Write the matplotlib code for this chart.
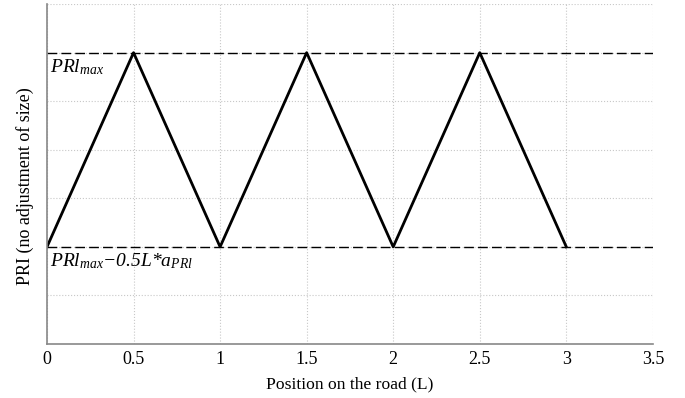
import numpy as np
import matplotlib.pyplot as plt

plt.rcParams['font.family'] = 'Liberation Serif'
plt.rcParams['mathtext.fontset'] = 'custom'
plt.rcParams['mathtext.rm'] = 'Liberation Serif'
plt.rcParams['mathtext.it'] = 'Liberation Serif:italic'

# road position (L) and PRI value
position = [0, 0.5, 1, 1.5, 2, 2.5, 3]
pri = [2, 6, 2, 6, 2, 6, 2]
pri_max = 6
pri_min = 2
xticks = [0, 0.5, 1, 1.5, 2, 2.5, 3, 3.5]
xticklabels = ['0', '0.5', '1', '1.5', '2', '2.5', '3', '3.5']

fig = plt.figure(figsize=(6.85, 3.98), dpi=100)
ax = fig.add_axes([0.0686, 0.1357, 0.8845, 0.854])

ax.plot(position, pri, color='black', lw=2)
ax.axhline(pri_max, color='black', lw=1, ls=(0, (7, 3)))
ax.axhline(pri_min, color='black', lw=1, ls=(0, (7, 3)))

ax.set_xlim(0, 3.5)
ax.set_ylim(0, 7)
ax.set_xticks(xticks)
ax.set_xticklabels(xticklabels, fontsize=13)
ax.set_yticks(np.arange(0, 8, 1))
ax.set_yticklabels([])
ax.tick_params(length=0, pad=5)
ax.grid(True, color='#c8c8c8', ls=':', lw=0.8)

for s in ['top', 'right']:
    ax.spines[s].set_visible(False)
for s in ['left', 'bottom']:
    ax.spines[s].set_color('#888888')
    ax.spines[s].set_linewidth(1.2)

ax.text(0.02, pri_max - 0.1, r'PRl$_{max}$', fontsize=14, style='italic',
        va='top', ha='left')
ax.text(0.02, pri_min - 0.1, r'PRl$_{max}$−0.5L*a$_{PRl}$', fontsize=14,
        style='italic', va='top', ha='left')

ax.set_xlabel('Position on the road (L)', fontsize=12.6, labelpad=6)
ax.set_ylabel('PRI (no adjustment of size)', fontsize=13)
ax.yaxis.set_label_coords(-0.022, 0.465)

fig.savefig('out.png', dpi=100)
